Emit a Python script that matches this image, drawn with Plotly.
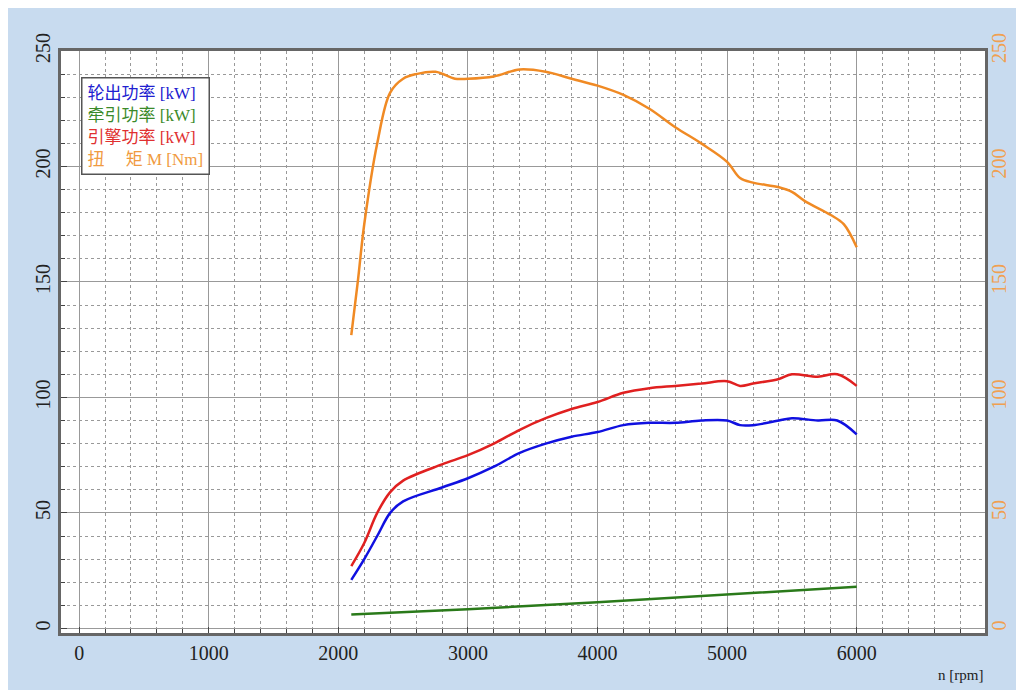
import plotly.graph_objects as go

rpm_t = [2100,2150,2200,2300,2400,2500,2600,2750,2900,3000,3200,3400,3600,3800,4000,4200,4400,4600,4800,5000,5100,5200,5400,5500,5600,5800,5900,6000]
torque = [127,150,175,210,232,238,240,241,238,238,239,242,241,238,235,231,225,217,210,202,195,193,191,189,185,179,175,165]
rpm_p = [2100,2200,2300,2400,2500,2800,3000,3200,3400,3600,3800,4000,4200,4400,4600,4800,5000,5100,5200,5400,5500,5700,5850,6000]
engine = [27,37,50,59,64,71,75,80,86,91,95,98,102,104,105,106,107,105,106,108,110,109,110,105]
wheel = [21,30,40,50,55,61,65,70,76,80,83,85,88,89,89,90,90,88,88,90,91,90,90,84]
rpm_g = [2100,3000,4000,5000,6000]
traction = [6,8.3,11.3,14.5,18]

fig = go.Figure()
fig.add_trace(go.Scatter(x=rpm_t, y=torque, mode="lines", line=dict(color="#f08a24", width=2.5, shape="spline")))
fig.add_trace(go.Scatter(x=rpm_p, y=engine, mode="lines", line=dict(color="#e02020", width=2.5, shape="spline")))
fig.add_trace(go.Scatter(x=rpm_p, y=wheel, mode="lines", line=dict(color="#1010e0", width=2.5, shape="spline")))
fig.add_trace(go.Scatter(x=rpm_g, y=traction, mode="lines", line=dict(color="#2a7a1a", width=2.5)))
fig.add_trace(go.Scatter(x=rpm_g, y=traction, yaxis="y2", mode="lines", line=dict(width=0), opacity=0, hoverinfo="skip"))

ax_common = dict(showline=True, linecolor="#666", linewidth=3, mirror=True,
                 gridcolor="#999", gridwidth=1, zeroline=False, ticks="inside", tickcolor="#444",
                 ticklen=6)
minor = dict(showgrid=True, griddash="3px,3px", gridcolor="#999", ticks="inside", ticklen=4, tickcolor="#444")
fig.update_layout(
    width=1024, height=690, showlegend=False,
    paper_bgcolor="#c8dbef", plot_bgcolor="white",
    margin=dict(l=53, r=47, t=43, b=65),
    font=dict(family="Liberation Serif", size=20, color="#222"),
    xaxis=dict(range=[-140, 6990], dtick=1000, **ax_common, minor=dict(dtick=200, **minor)),
    yaxis=dict(range=[-2, 250], dtick=50, tickangle=-90, **ax_common, minor=dict(dtick=10, **minor)),
    yaxis2=dict(range=[-2, 250], dtick=50, tickangle=-90, overlaying="y", side="right",
                showgrid=False, zeroline=False, tickfont=dict(color="#f0a050", size=20), ticks=""),
)
fig.add_annotation(xref="paper", yref="y", x=1.0, y=-2, yshift=-32, xanchor="right", yanchor="top",
                   text="n [rpm]", showarrow=False, font=dict(size=15))
fig.add_annotation(xref="paper", yref="paper", x=0.022, y=0.955, xanchor="left", yanchor="top", align="left",
                   showarrow=False, bgcolor="white", bordercolor="#555", borderwidth=1.5, borderpad=5,
                   font=dict(size=17, family="Liberation Serif, Noto Sans CJK SC"),
                   text="<span style='color:#2020d0'>轮出功率 [kW]</span><br>"
                        "<span style='color:#3a8a2a'>牵引功率 [kW]</span><br>"
                        "<span style='color:#e03030'>引擎功率 [kW]</span><br>"
                        "<span style='color:#f09a40'>扭　 矩 M [Nm]</span>")
fig.write_html("out.html")
